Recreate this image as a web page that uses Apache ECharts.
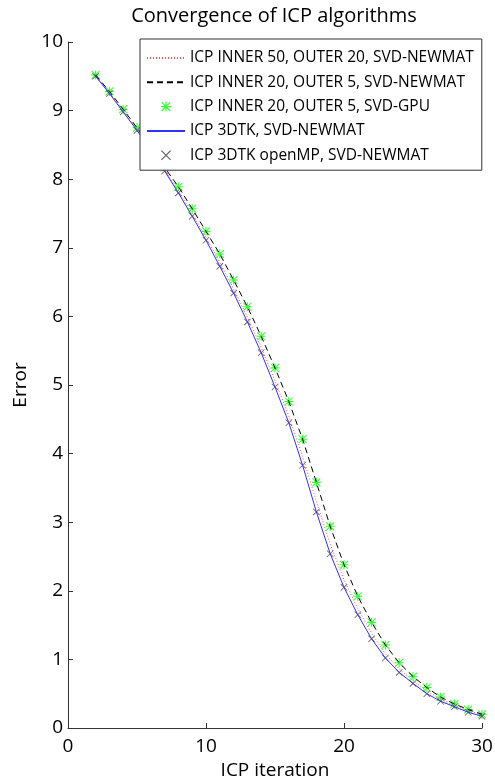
<!DOCTYPE html>
<html>
<head>
<meta charset="utf-8">
<script src="https://cdn.jsdelivr.net/npm/echarts@6/dist/echarts.min.js"></script>
<style>html,body{margin:0;padding:0;background:#fff}#c{width:495px;height:780px}</style>
</head>
<body>
<div id="c"></div>
<script>
const iterations = [2,3,4,5,6,7,8,9,10,11,12,13,14,15,16,17,18,19,20,21,22,23,24,25,26,27,28,29,30];
const inner50Outer20Newmat = [9.51,9.26,8.99,8.72,8.44,8.14,7.83,7.50,7.15,6.79,6.40,5.99,5.55,5.06,4.55,3.96,3.30,2.68,2.16,1.74,1.38,1.08,0.86,0.69,0.54,0.42,0.33,0.25,0.19];
const inner20Outer5Newmat = [9.52,9.28,9.02,8.75,8.47,8.17,7.89,7.57,7.24,6.91,6.53,6.14,5.71,5.25,4.76,4.21,3.58,2.94,2.38,1.92,1.54,1.21,0.95,0.75,0.59,0.45,0.35,0.27,0.20];
const inner20Outer5Gpu = [9.52,9.28,9.02,8.75,8.47,8.17,7.89,7.57,7.24,6.91,6.53,6.14,5.71,5.25,4.76,4.21,3.58,2.94,2.38,1.92,1.54,1.21,0.95,0.75,0.59,0.45,0.35,0.27,0.20];
const dtkNewmat = [9.50,9.25,8.98,8.71,8.43,8.12,7.80,7.46,7.11,6.73,6.34,5.92,5.47,4.97,4.45,3.83,3.15,2.54,2.05,1.65,1.30,1.02,0.81,0.65,0.50,0.39,0.31,0.23,0.17];
const dtkOpenmpNewmat = [9.50,9.25,8.98,8.71,8.43,8.12,7.80,7.46,7.11,6.73,6.34,5.92,5.47,4.97,4.45,3.83,3.15,2.54,2.05,1.65,1.30,1.02,0.81,0.65,0.50,0.39,0.31,0.23,0.17];
const seriesNames = ['ICP INNER 50, OUTER 20, SVD-NEWMAT','ICP INNER 20, OUTER 5, SVD-NEWMAT','ICP INNER 20, OUTER 5, SVD-GPU','ICP 3DTK, SVD-NEWMAT','ICP 3DTK openMP, SVD-NEWMAT'];
const xTicks = [0,10,20,30];
const yTicks = [0,1,2,3,4,5,6,7,8,9,10];

const pair = arr => iterations.map((x,i)=>[x,arr[i]]);
const FONT = 'Open Sans';
const starPath = 'path://M44 0H56V100H44Z M0 44H100V56H0Z M10 2L98 90L90 98L2 10Z M90 2L98 10L10 98L2 90Z';
const crossPath = 'path://M8 0L100 92L92 100L0 8Z M92 0L100 8L8 100L0 92Z';
const isLine = [true,true,false,true,false];

const chart = echarts.init(document.getElementById('c'), null, {renderer:'canvas'});
chart.setOption({
  animation:false,
  backgroundColor:'#fff',
  title:{text:'Convergence of ICP algorithms', left:269, top:1, textAlign:'center',
    textStyle:{fontFamily:FONT, fontSize:20, fontWeight:'normal', color:'#000'}},
  grid:{left:68, right:13, top:42, bottom:52, containLabel:false, outerBoundsMode:'none'},
  legend:{
    orient:'vertical', left:140, top:39, backgroundColor:'#fff', borderColor:'#333', borderWidth:1,
    padding:[11,8,7,6], itemWidth:38, itemHeight:10, itemGap:8.3,
    textStyle:{fontFamily:FONT, fontSize:15.5, color:'#000', lineHeight:15},
    data:seriesNames.map((n,i)=> isLine[i] ? {name:n, itemStyle:{opacity:0}} : {name:n})
  },
  xAxis:{type:'value', min:xTicks[0], max:xTicks[xTicks.length-1], interval:10,
    name:'ICP iteration', nameLocation:'middle', nameGap:30,
    nameTextStyle:{fontFamily:FONT, fontSize:19, color:'#000'},
    axisLine:{show:true, lineStyle:{color:'#333', width:1}},
    axisTick:{show:true, inside:true, length:5, lineStyle:{color:'#333'}},
    axisLabel:{fontFamily:FONT, fontSize:19, color:'#000', margin:9},
    splitLine:{show:false}},
  yAxis:{type:'value', min:yTicks[0], max:yTicks[yTicks.length-1], interval:1,
    name:'Error', nameLocation:'middle', nameGap:38,
    nameTextStyle:{fontFamily:FONT, fontSize:19, color:'#000'},
    axisLine:{show:true, lineStyle:{color:'#333', width:1}},
    axisTick:{show:true, inside:true, length:5, lineStyle:{color:'#333'}},
    axisLabel:{fontFamily:FONT, fontSize:19, color:'#000', margin:5},
    splitLine:{show:false}},
  series:[
    {name:seriesNames[0], type:'line', data:pair(inner50Outer20Newmat), symbol:'none',
      lineStyle:{color:'#ff5050', width:1, type:[1,2]}, itemStyle:{color:'#ff5050'}},
    {name:seriesNames[1], type:'line', data:pair(inner20Outer5Newmat), symbol:'none',
      lineStyle:{color:'#000', width:1, type:[6,4]}, itemStyle:{color:'#000'}},
    {name:seriesNames[2], type:'scatter', data:pair(inner20Outer5Gpu), symbol:starPath, symbolSize:9,
      itemStyle:{color:'#00ff00'}},
    {name:seriesNames[3], type:'line', data:pair(dtkNewmat), symbol:'none',
      lineStyle:{color:'#3030ff', width:1}, itemStyle:{color:'#3030ff'}},
    {name:seriesNames[4], type:'scatter', data:pair(dtkOpenmpNewmat), symbol:crossPath, symbolSize:7,
      itemStyle:{color:'#333'}}
  ]
});
</script>
</body>
</html>
